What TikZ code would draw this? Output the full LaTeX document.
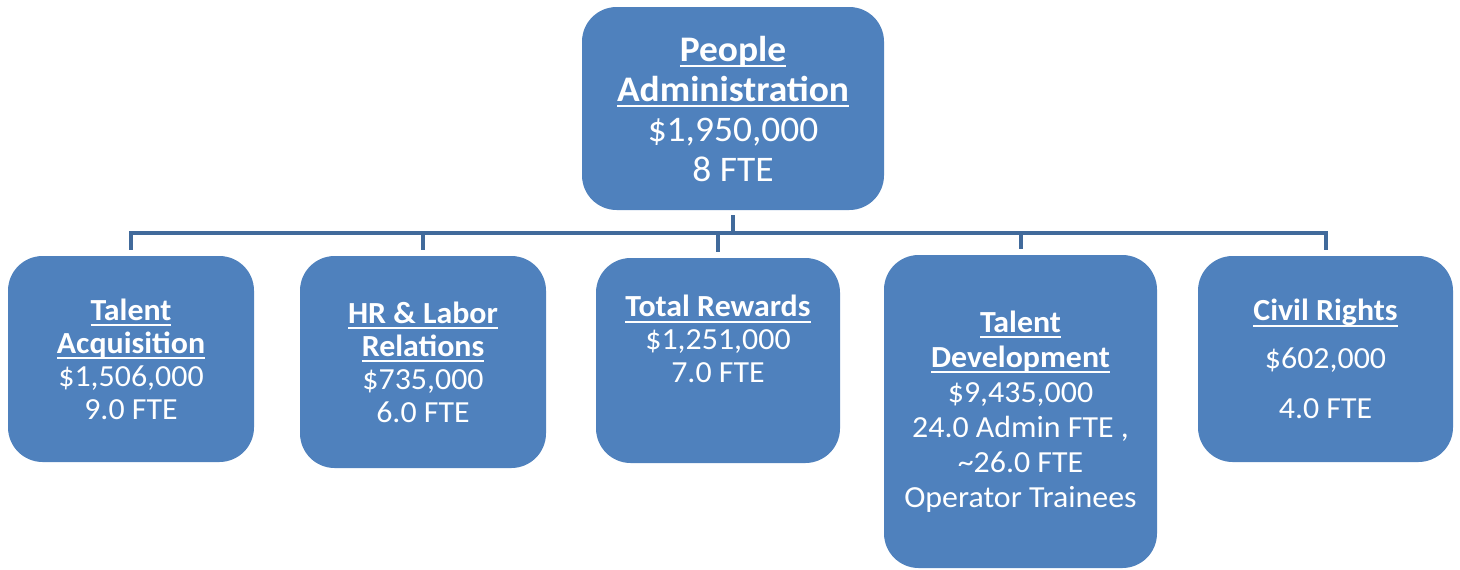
\documentclass[tikz,border=0pt]{standalone}
\usepackage{fontspec}
\setmainfont[FakeStretch=1.04]{Carlito}
\definecolor{boxblue}{HTML}{4F81BD}
\definecolor{linkblue}{RGB}{65,106,155}
\newcommand\myul[1]{\setbox0\hbox{#1}\rlap{\rule[-4.6pt]{\wd0}{1.5pt}}\box0}
\begin{document}
\begin{tikzpicture}[x=0.75pt,y=-0.75pt,
  box/.style={draw=none,fill=boxblue,rounded corners=26pt,inner sep=0pt},
  txt/.style={text=white,align=center,inner sep=0pt,font=\fontsize{23}{24.75}\selectfont},
  toptxt/.style={text=white,align=center,inner sep=0pt,font=\fontsize{27}{30}\selectfont},
  conn/.style={draw=linkblue,line width=3pt}]
\useasboundingbox (0,0) rectangle (1460,569);
% boxes
\node[box,minimum width=226.5pt,minimum height=152.25pt] (top) at (733,108.5) {};
\node[box,minimum width=184.5pt,minimum height=154.5pt] (ta) at (131,359) {};
\node[box,minimum width=184.5pt,minimum height=159pt] (hr) at (423,362) {};
\node[box,minimum width=183pt,minimum height=153.75pt] (tr) at (718,360.5) {};
\node[box,minimum width=204.75pt,minimum height=234.75pt] (td) at (1020.5,411.5) {};
\node[box,minimum width=191.25pt,minimum height=154.5pt] (cr) at (1325.5,359) {};
% texts
\node[toptxt] (topt) at (top.center) {\textbf{\myul{People}}\\\textbf{\myul{Administration}}\\\$1,950,000\\8 FTE};
\node[txt] (tat) at (ta.center) {\textbf{\myul{Talent}}\\\textbf{\myul{Acquisition}}\\\$1,506,000\\9.0 FTE};
\node[txt] (hrt) at (hr.center) {\textbf{\myul{HR \& Labor}}\\\textbf{\myul{Relations}}\\\$735,000\\6.0 FTE};
\node[txt,anchor=north] (trt) at (718,295) {\textbf{\myul{Total Rewards}}\\\$1,251,000\\7.0 FTE};
\node[txt,font=\fontsize{23}{26.25}\selectfont] (tdt) at (td.center) {\textbf{\myul{Talent}}\\\textbf{\myul{Development}}\\\$9,435,000\\24.0 Admin FTE ,\\\textasciitilde26.0 FTE\\Operator Trainees};
\node[txt] (crt) at (cr.center) {\textbf{\myul{Civil Rights}}\\[11pt]\$602,000\\[13pt]4.0 FTE};
% connectors
\coordinate (bus) at (733,233);
\draw[conn,shorten <=3.75pt] (top.south) -- (bus);
\draw[conn,shorten >=4.5pt] (bus) -| (ta.north);
\draw[conn,shorten >=4.5pt] (bus) -| (hr.north);
\draw[conn,shorten >=4.5pt] (bus) -| (tr.north);
\draw[conn,shorten >=4.5pt] (bus) -| (td.north);
\draw[conn,shorten >=4.5pt] (bus) -| (cr.north);
\end{tikzpicture}
\end{document}
